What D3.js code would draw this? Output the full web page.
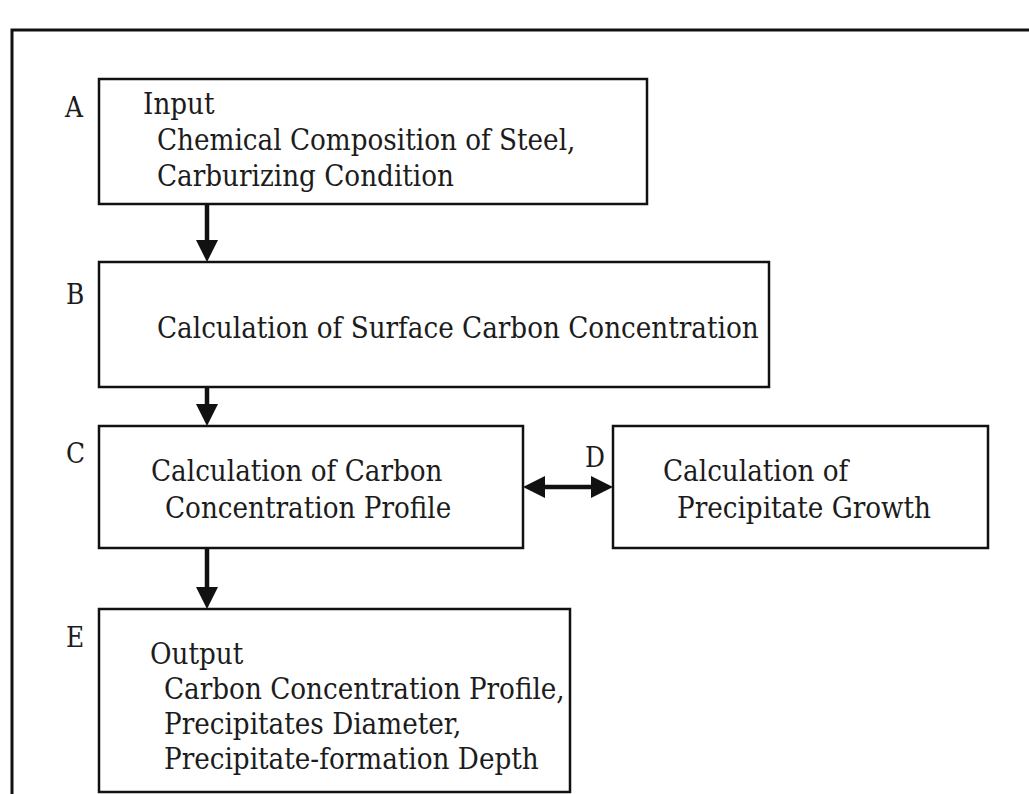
<!DOCTYPE html>
<html>
<head>
<meta charset="utf-8">
<script src="https://cdn.jsdelivr.net/npm/d3@7"></script>
<style>
  html, body { margin: 0; padding: 0; background: #fff; }
  svg text { font-family: 'DejaVu Serif Condensed', 'DejaVu Serif', serif; fill: #1c1c1c; }
</style>
</head>
<body>
<svg id="chart" width="1029" height="794"></svg>
<script>
// steps of the carburizing simulation
const stepIds = ['A', 'B', 'C', 'D', 'E']
const stepLines = [
  ['Input', 'Chemical Composition of Steel,', 'Carburizing Condition'],
  ['Calculation of Surface Carbon Concentration'],
  ['Calculation of Carbon', 'Concentration Profile'],
  ['Calculation of', 'Precipitate Growth'],
  ['Output', 'Carbon Concentration Profile,', 'Precipitates Diameter,', 'Precipitate-formation Depth']
]
const links = [
  { from: 'A', to: 'B', both: false },
  { from: 'B', to: 'C', both: false },
  { from: 'C', to: 'D', both: true },
  { from: 'C', to: 'E', both: false }
]

// layout (pixels)
const box = {
  A: { x: 99, y: 79, w: 548, h: 125 },
  B: { x: 99, y: 262, w: 670, h: 125 },
  C: { x: 99, y: 426, w: 424, h: 122 },
  D: { x: 613, y: 426, w: 375, h: 122 },
  E: { x: 99, y: 609, w: 471, h: 183 }
}
const textPos = {
  A: { x: 143, y: 114, indent: 14, lh: 36 },
  B: { x: 157, y: 338, indent: 0, lh: 36 },
  C: { x: 151, y: 481, indent: 14, lh: 37 },
  D: { x: 663, y: 481, indent: 14, lh: 37 },
  E: { x: 150, y: 664, indent: 14, lh: 35 }
}
const tagPos = { A: [65, 117], B: [66, 304], C: [66, 463], D: [585, 467], E: [66, 647] }
const arrowX = 207
const fontSize = 29.2

const svg = d3.select('#chart')

// outer frame, only top and left edges are in the picture
svg.append('path')
  .attr('d', 'M12,794V30H1029')
  .attr('fill', 'none')
  .attr('stroke', '#111')
  .attr('stroke-width', 3)

const steps = stepIds.map((id, i) => ({ id, lines: stepLines[i] }))

const g = svg.selectAll('.step')
  .data(steps)
  .enter()
  .append('g')
  .attr('class', 'step')

g.append('rect')
  .attr('x', d => box[d.id].x)
  .attr('y', d => box[d.id].y)
  .attr('width', d => box[d.id].w)
  .attr('height', d => box[d.id].h)
  .attr('fill', '#fff')
  .attr('stroke', '#111')
  .attr('stroke-width', 2.5)

g.append('text')
  .attr('x', d => tagPos[d.id][0])
  .attr('y', d => tagPos[d.id][1])
  .attr('font-size', fontSize - 1.5)
  .text(d => d.id)

g.each(function (d) {
  const p = textPos[d.id]
  d3.select(this).selectAll('.line')
    .data(d.lines)
    .enter()
    .append('text')
    .attr('class', 'line')
    .attr('x', (t, i) => p.x + (i > 0 ? p.indent : 0))
    .attr('y', (t, i) => p.y + i * p.lh)
    .attr('font-size', fontSize)
    .text(t => t)
})

// arrows
const shaft = 4.5
const headW = 11
const headL = 22

const arrowHead = (x, y, dx, dy) => {
  // tip at (x,y), pointing along (dx,dy)
  const px = -dy, py = dx
  const bx = x - dx * headL, by = y - dy * headL
  return `M${x},${y}L${bx + px * headW},${by + py * headW}L${bx - px * headW},${by - py * headW}Z`
}

links.forEach(l => {
  const a = box[l.from], b = box[l.to]
  let x1, y1, x2, y2
  if (l.both) {
    y1 = y2 = a.y + a.h / 2
    x1 = a.x + a.w
    x2 = b.x
  } else {
    x1 = x2 = arrowX
    y1 = a.y + a.h
    y2 = b.y
  }
  const len = Math.hypot(x2 - x1, y2 - y1)
  const dx = (x2 - x1) / len, dy = (y2 - y1) / len
  const s1 = l.both ? headL - 2 : 0
  svg.append('line')
    .attr('x1', x1 + dx * s1)
    .attr('y1', y1 + dy * s1)
    .attr('x2', x2 - dx * (headL - 2))
    .attr('y2', y2 - dy * (headL - 2))
    .attr('stroke', '#111')
    .attr('stroke-width', shaft)
  svg.append('path')
    .attr('d', arrowHead(x2, y2, dx, dy))
    .attr('fill', '#111')
  if (l.both) {
    svg.append('path')
      .attr('d', arrowHead(x1, y1, -dx, -dy))
      .attr('fill', '#111')
  }
})
</script>
</body>
</html>
